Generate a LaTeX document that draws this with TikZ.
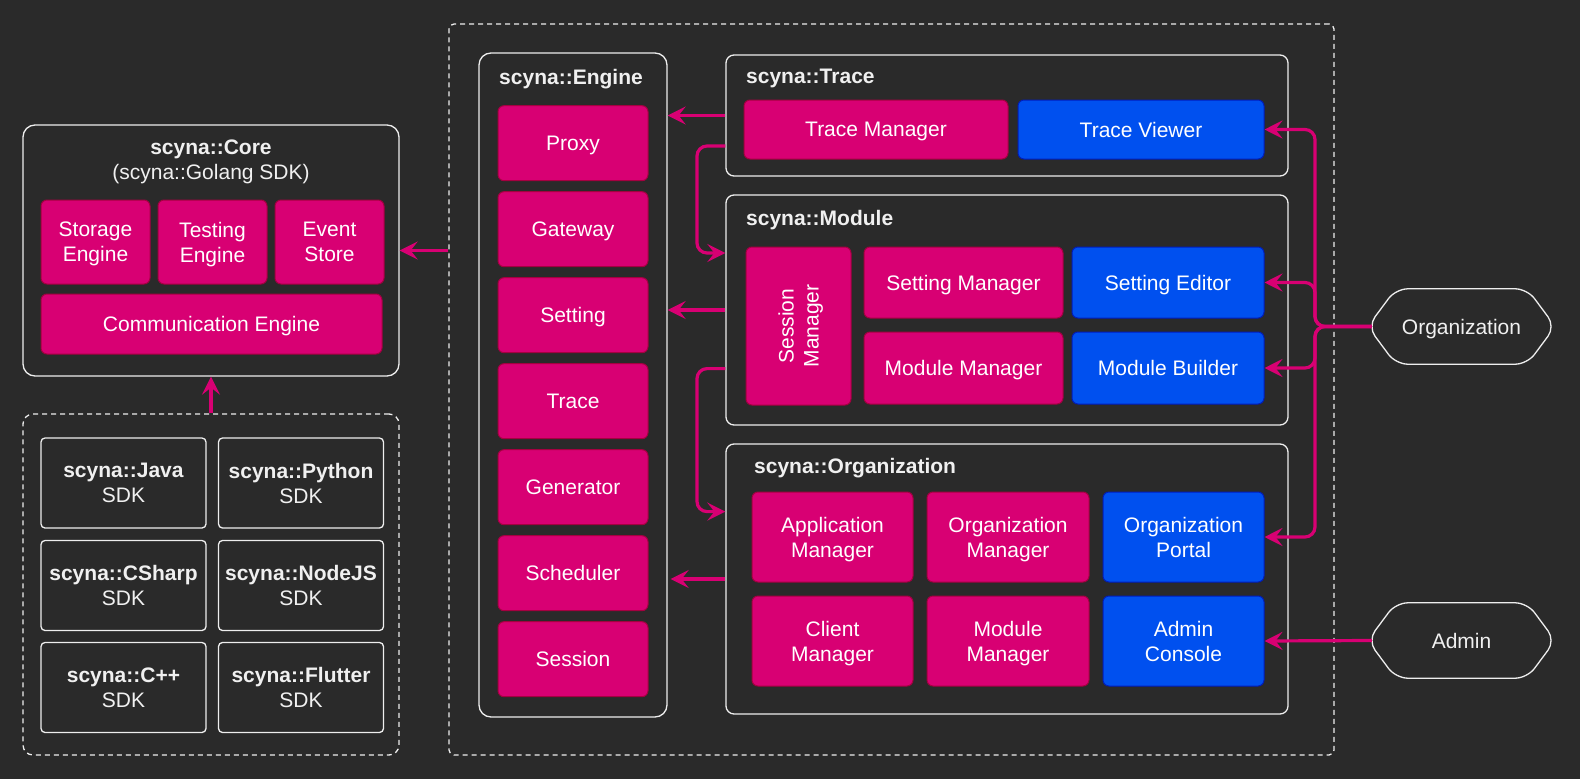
\documentclass[tikz,border=0pt]{standalone}
\usepackage{fontspec}
\setmainfont{Liberation Sans}
\usetikzlibrary{arrows.meta,calc}
\definecolor{bg}{HTML}{2A2A2A}
\definecolor{mfill}{HTML}{D80073}
\definecolor{mstroke}{HTML}{A50040}
\definecolor{bfill}{HTML}{0050EF}
\definecolor{bstroke}{HTML}{001DBC}
\definecolor{wline}{HTML}{EEEEEE}
\definecolor{ltext}{HTML}{F0F0F0}
\definecolor{cmag}{HTML}{D80073}
\begin{document}
\begin{tikzpicture}[x=1pt,y=-1pt,
  font=\fontsize{21}{25}\selectfont,
  tfix/.style={text depth=-2pt},
  mbox/.style={draw=mstroke, fill=mfill, rounded corners=6, text=white, align=center, line width=1pt, inner sep=0pt, tfix},
  bbox/.style={draw=bstroke, fill=bfill, rounded corners=6, text=white, align=center, line width=1pt, inner sep=0pt, tfix},
  cont/.style={draw=wline, line width=1.3pt, rounded corners=8, inner sep=0pt},
  sdkbox/.style={draw=wline, line width=1.3pt, rounded corners=4, text=ltext, align=center, inner sep=0pt, minimum width=165, minimum height=90, text depth=-6pt},
  dcont/.style={draw=wline, line width=1.3pt, dash pattern=on 5pt off 4pt, rounded corners=10, inner sep=0pt},
  ttl/.style={text=ltext, font=\fontsize{21}{25}\selectfont\bfseries, inner sep=0pt, tfix},
  hlabel/.style={text=ltext, inner sep=0pt, minimum width=179, minimum height=75, tfix},
  hexl/.style={draw=wline, line width=1.3pt, rounded corners=12},
  conn/.style={draw=cmag, line width=3.2pt, rounded corners=10, -{Stealth[length=18pt,width=18pt,inset=7pt]}},
  engitem/.style={mbox, minimum width=150, minimum height=75}
]
\fill[bg] (0,0) rectangle (1580,779);
\useasboundingbox (0,0) rectangle (1580,779);

% ---------- Core ----------
\node[cont, rounded corners=12, minimum width=376, minimum height=251] (core) at (211,250.5) {};
\node[text=ltext, align=center, inner sep=0pt, tfix] (coret) at (211,160) {\textbf{scyna::Core}\\(scyna::Golang SDK)};
\node[mbox, minimum width=109, minimum height=84] (se) at (95.5,242) {Storage\\Engine};
\node[mbox, minimum width=109, minimum height=84] (te) at (212.5,242) {Testing\\Engine};
\node[mbox, minimum width=109, minimum height=84] (es) at (329.5,242) {Event\\Store};
\node[mbox, minimum width=341, minimum height=60] (comm) at (211.5,324) {Communication Engine};

% ---------- SDKs ----------
\node[dcont, minimum width=376, minimum height=341] (sdk) at (211,584.5) {};
\node[sdkbox] (java) at (123.5,483) {\textbf{scyna::Java}\\SDK};
\node[sdkbox] (python) at (301,483) {\textbf{scyna::Python}\\SDK};
\node[sdkbox] (csharp) at (123.5,585.5) {\textbf{scyna::CSharp}\\SDK};
\node[sdkbox] (nodejs) at (301,585.5) {\textbf{scyna::NodeJS}\\SDK};
\node[sdkbox] (cpp) at (123.5,687.5) {\textbf{scyna::C++}\\SDK};
\node[sdkbox] (flutter) at (301,687.5) {\textbf{scyna::Flutter}\\SDK};

% ---------- Outer dashed ----------
\node[dcont, rounded corners=5, minimum width=885, minimum height=731] (outer) at (891.5,389.5) {};

% ---------- Engine ----------
\node[cont, rounded corners=12, minimum width=188, minimum height=664] (engine) at (573,385) {};
\node[ttl] (enginet) at (571,77) {scyna::Engine};
\node[engitem] (proxy) at (573,143.2) {Proxy};
\node[engitem] (gateway) at (573,229.2) {Gateway};
\node[engitem] (setting) at (573,315.2) {Setting};
\node[engitem] (trace) at (573,401.2) {Trace};
\node[engitem] (generator) at (573,487.2) {Generator};
\node[engitem] (scheduler) at (573,573.2) {Scheduler};
\node[engitem] (session) at (573,659.2) {Session};

% ---------- Trace ----------
\node[cont, minimum width=562, minimum height=121] (tracec) at (1007,115.5) {};
\node[ttl, anchor=west] (tracet) at (746,76.5) {scyna::Trace};
\node[mbox, minimum width=264, minimum height=59] (tm) at (876,129.5) {Trace Manager};
\node[bbox, minimum width=246, minimum height=59] (tv) at (1141,129.5) {Trace Viewer};

% ---------- Module ----------
\node[cont, minimum width=562, minimum height=230] (modc) at (1007,310) {};
\node[ttl, anchor=west] (modt) at (746,217.5) {scyna::Module};
\node[mbox, rotate=90, minimum width=158, minimum height=105] (sm) at (798.5,326) {Session\\Manager};
\node[mbox, minimum width=199, minimum height=71] (setm) at (963.5,282.5) {Setting Manager};
\node[mbox, minimum width=199, minimum height=72] (modm) at (963.5,368) {Module Manager};
\node[bbox, minimum width=192, minimum height=71] (sete) at (1168,282.5) {Setting Editor};
\node[bbox, minimum width=192, minimum height=72] (modb) at (1168,368) {Module Builder};

% ---------- Organization ----------
\node[cont, minimum width=562, minimum height=270] (orgc) at (1007,579) {};
\node[ttl, anchor=west] (orgt) at (754,466) {scyna::Organization};
\node[mbox, minimum width=161, minimum height=90] (am) at (832.5,537) {Application\\Manager};
\node[mbox, minimum width=162, minimum height=90] (om) at (1008,537) {Organization\\Manager};
\node[bbox, minimum width=161, minimum height=90] (op) at (1183.5,537) {Organization\\Portal};
\node[mbox, minimum width=161, minimum height=90] (cm) at (832.5,641) {Client\\Manager};
\node[mbox, minimum width=162, minimum height=90] (mm) at (1008,641) {Module\\Manager};
\node[bbox, minimum width=161, minimum height=90] (ac) at (1183.5,641) {Admin\\Console};

% ---------- Actors ----------
\node[hlabel] (orgh) at (1461.5,326.5) {Organization};
\node[hlabel] (adminh) at (1461.5,640.5) {Admin};
\foreach \h in {orgh,adminh}{
  \draw[hexl] ($(\h.west)+(-4,0)$) -- ($(\h.north west)+(24,0)$) -- ($(\h.north east)+(-24,0)$) -- ($(\h.east)+(4,0)$)
    -- ($(\h.south east)+(-24,0)$) -- ($(\h.south west)+(24,0)$) -- cycle;
}

% ---------- Connectors ----------
\coordinate (lx) at (697,0);
\coordinate (rx) at (1315,0);
\draw[conn] (outer.west |- core.east) -- (core.east);
\draw[conn] (sdk.north) -- (core.north |- core.south);
\draw[conn] (tracec.west) -- (tracec.west -| engine.east);
\draw[conn] (tracec.west |- 0,146) -- (lx |- 0,146) |- (modc.west |- 0,253);
\draw[conn] (modc.west) -- (modc.west -| engine.east);
\draw[conn] (modc.west |- 0,368.6) -- (lx |- 0,368.6) |- (orgc.west |- 0,511.6);
\draw[conn, shorten >=3pt] (orgc.west) -- (orgc.west -| engine.east);

\draw[conn] (orgh.west) -- (rx |- orgh.west) |- (tv.east);
\draw[conn] (orgh.west) -- (rx |- orgh.west) |- (sete.east);
\draw[conn] (orgh.west) -- (rx |- orgh.west) |- (modb.east);
\draw[conn] (orgh.west) -- (rx |- orgh.west) |- (op.east);
\draw[conn] (adminh.west) -- (ac.east);
\end{tikzpicture}
\end{document}
